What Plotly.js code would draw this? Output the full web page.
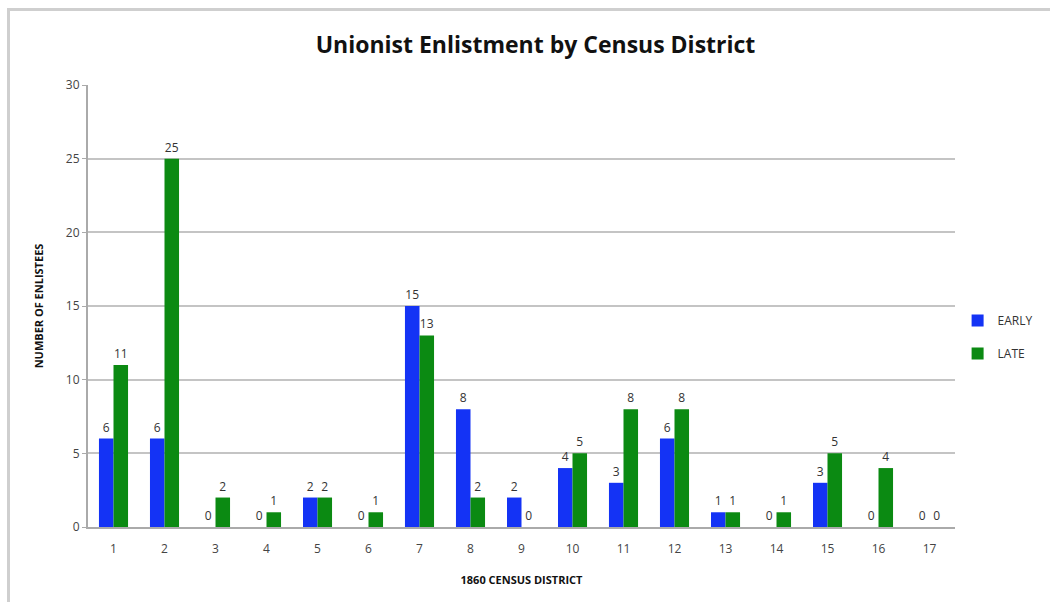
<!DOCTYPE html>
<html>
<head>
<meta charset="utf-8">
<script src="https://cdn.plot.ly/plotly-3.0.1.min.js"></script>
<style>
html,body{margin:0;padding:0;background:#fff;}
#wrap{position:relative;width:1050px;height:602px;}
#chart{position:absolute;left:0;top:0;width:1050px;height:602px;}
#frame{position:absolute;left:7px;top:8px;width:1043px;height:594px;border-top:3px solid #cfcfcf;border-left:3px solid #cfcfcf;box-sizing:border-box;pointer-events:none;}
</style>
</head>
<body>
<div id="wrap"><div id="chart"></div><div id="frame"></div></div>
<script>
const districts = ["1","2","3","4","5","6","7","8","9","10","11","12","13","14","15","16","17"];
const early = [6,6,0,0,2,0,15,8,2,4,3,6,1,0,3,0,0];
const late = [11,25,2,1,2,1,13,2,0,5,8,8,1,1,5,4,0];
const yTicks = [0,5,10,15,20,25,30];

const labelFont = {family:"Open Sans, Noto Sans, sans-serif", size:12, color:"#333"};
const traces = [
  {type:"bar", name:"EARLY", legendgroup:"a", x:districts, y:early, marker:{color:"#1433f5"},
   text:early.map(String), textposition:"outside", cliponaxis:false, textfont:labelFont},
  {type:"bar", name:"LATE", legendgroup:"b", x:districts, y:late, marker:{color:"#0b8a12"},
   text:late.map(String), textposition:"outside", cliponaxis:false, textfont:labelFont}
];
const layout = {
  width:1050, height:602,
  margin:{l:88, r:95, t:85, b:75},
  paper_bgcolor:"#fff", plot_bgcolor:"#fff",
  barmode:"group", bargap:0.43, bargroupgap:0,
  title:{text:"<b>Unionist Enlistment by Census District</b>", x:0.51, xanchor:"center", y:0.925, yanchor:"middle",
    font:{family:"Open Sans, Noto Sans, sans-serif", size:23, color:"#111"}},
  font:{family:"Open Sans, Noto Sans, sans-serif", color:"#444"},
  xaxis:{type:"category", showgrid:false, showline:true, linecolor:"#aaa", linewidth:2,
    ticks:"", ticklabelstandoff:10, tickfont:{size:12, color:"#444"},
    title:{text:"<b>1860 CENSUS DISTRICT</b>", standoff:20, font:{size:11, color:"#111"}}},
  yaxis:{range:[0,30], tickvals:yTicks, showgrid:true, gridcolor:"#c4c4c4", gridwidth:2,
    showline:true, linecolor:"#aaa", linewidth:2, zeroline:false,
    ticks:"outside", ticklen:4, tickcolor:"#aaa", tickfont:{size:12, color:"#444"},
    title:{text:"<b>NUMBER OF ENLISTEES</b>", standoff:20, font:{size:11, color:"#111"}}},
  legend:{xref:"container", yref:"container", x:0.912, y:0.44, xanchor:"left", yanchor:"middle",
    font:{family:"Liberation Sans Narrow, Open Sans, sans-serif", size:12, color:"#333"}, itemwidth:30, tracegroupgap:14, bgcolor:"rgba(0,0,0,0)"},
  showlegend:true
};
Plotly.newPlot("chart", traces, layout, {displayModeBar:false, staticPlot:true});
</script>
</body>
</html>
